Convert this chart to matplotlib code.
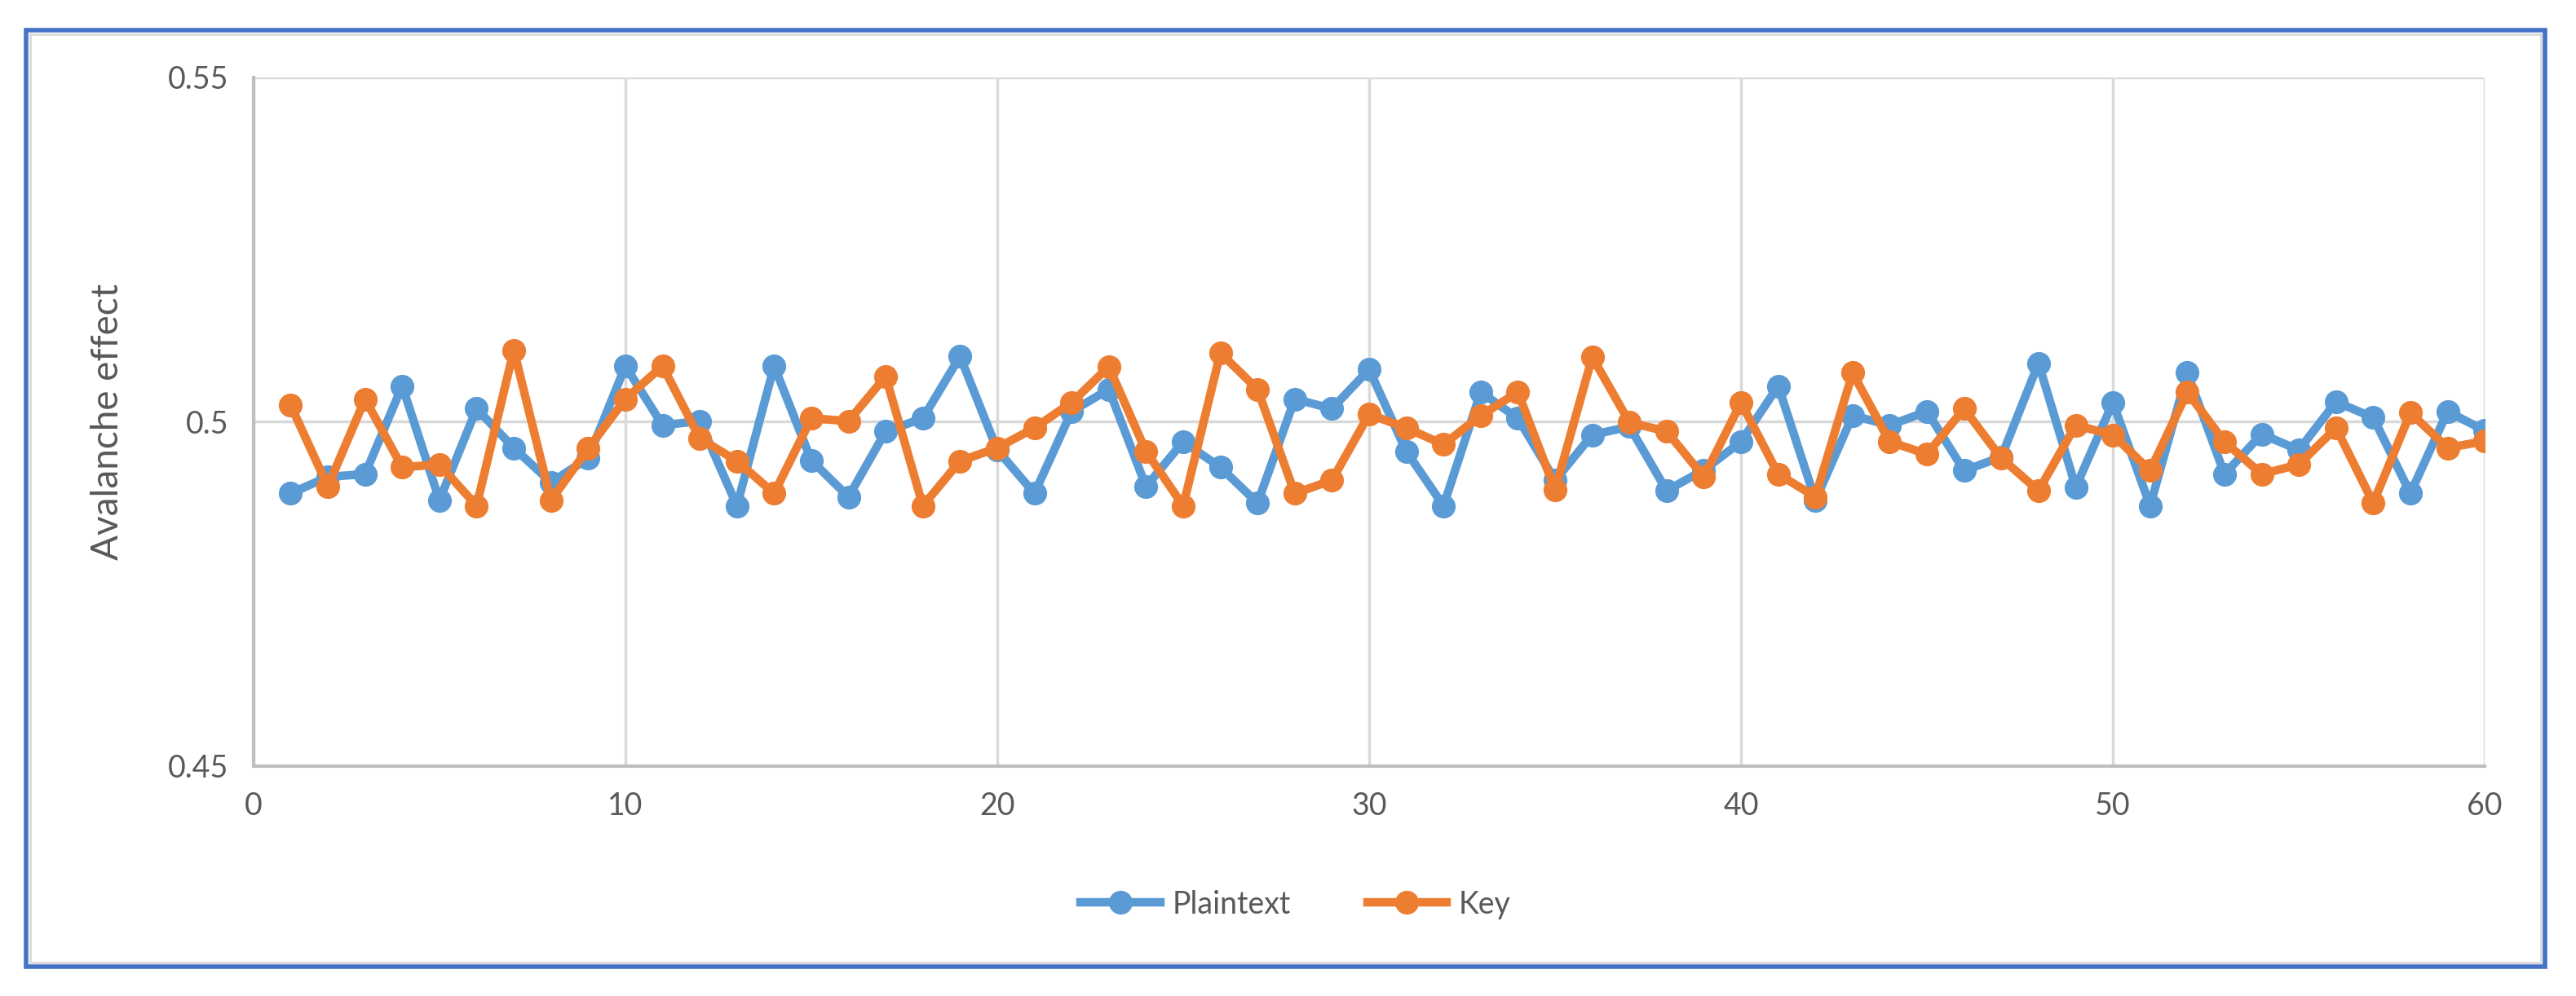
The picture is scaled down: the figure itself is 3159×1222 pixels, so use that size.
import matplotlib.pyplot as plt
from matplotlib.patches import Rectangle

# avalanche effect per test round
rounds = list(range(1, 61))
plaintext = [0.4896, 0.4920, 0.4924, 0.5052, 0.4886, 0.5019, 0.4962, 0.4912, 0.4947, 0.5081,
             0.4995, 0.5001, 0.4878, 0.5081, 0.4944, 0.4891, 0.4986, 0.5005, 0.5095, 0.4959,
             0.4896, 0.5015, 0.5047, 0.4906, 0.4971, 0.4934, 0.4882, 0.5033, 0.5019, 0.5076,
             0.4957, 0.4878, 0.5043, 0.5005, 0.4915, 0.4981, 0.4993, 0.4900, 0.4930, 0.4971,
             0.5052, 0.4886, 0.5009, 0.4995, 0.5015, 0.4929, 0.4949, 0.5085, 0.4905, 0.5028,
             0.4878, 0.5071, 0.4924, 0.4982, 0.4959, 0.5029, 0.5006, 0.4896, 0.5015, 0.4987]
key = [0.5024, 0.4906, 0.5033, 0.4934, 0.4938, 0.4878, 0.5104, 0.4886, 0.4961, 0.5033,
       0.5081, 0.4976, 0.4943, 0.4896, 0.5005, 0.5001, 0.5066, 0.4878, 0.4943, 0.4962,
       0.4991, 0.5028, 0.5080, 0.4957, 0.4878, 0.5100, 0.5047, 0.4896, 0.4915, 0.5011,
       0.4991, 0.4967, 0.5009, 0.5043, 0.4901, 0.5094, 0.4999, 0.4986, 0.4920, 0.5028,
       0.4924, 0.4891, 0.5071, 0.4971, 0.4953, 0.5019, 0.4947, 0.4900, 0.4995, 0.4981,
       0.4929, 0.5043, 0.4971, 0.4924, 0.4938, 0.4991, 0.4882, 0.5013, 0.4962, 0.4972]
xticks = [0, 10, 20, 30, 40, 50, 60]
yticks = [0.45, 0.5, 0.55]
ytick_labels = ["0.45", "0.5", "0.55"]

blue = "#5B9BD5"
orange = "#ED7D31"
txt = "#595959"

plt.rcParams['font.family'] = ['Lato', 'DejaVu Sans']

fig = plt.figure(figsize=(31.59, 12.22), dpi=100)
ax = fig.add_axes([0.0984, 0.2308, 0.8662, 0.6915])

ax.plot(rounds, plaintext, color=blue, lw=7.5, marker='o', ms=20, label="Plaintext", zorder=3)
ax.plot(rounds, key, color=orange, lw=7.5, marker='o', ms=20, label="Key", zorder=4)

ax.set_xlim(0, 60)
ax.set_ylim(0.45, 0.55)
ax.set_xticks(xticks)
ax.set_yticks(yticks)
ax.set_yticklabels(ytick_labels)
ax.grid(True, color="#D9D9D9", lw=2.5)
ax.set_axisbelow(True)
ax.tick_params(length=0, labelsize=27, labelcolor=txt, pad=22)
for s in ["top", "right"]:
    ax.spines[s].set_visible(False)
for s in ["left", "bottom"]:
    ax.spines[s].set_color("#BFBFBF")
    ax.spines[s].set_linewidth(3)

ax.set_ylabel("Avalanche effect", fontsize=33, color=txt, labelpad=38)

leg = fig.legend(loc="center", bbox_to_anchor=(0.503, 0.092), ncol=2, frameon=False,
                 fontsize=27, labelcolor=txt, handlelength=2.6, columnspacing=2.5,
                 handletextpad=0.4)

# chart area border (light gray) and outer blue frame
fig.patches.append(Rectangle((37 / 3159, 1 - 1181 / 1222), (3116 - 37) / 3159, (1181 - 42) / 1222,
                             transform=fig.transFigure, fill=False, ec="#D9D9D9", lw=2))
fig.patches.append(Rectangle((32 / 3159, 1 - 1186 / 1222), (3121 - 32) / 3159, (1186 - 37) / 1222,
                             transform=fig.transFigure, fill=False, ec="#4472C4", lw=4))

fig.savefig("out.png", dpi=100)
